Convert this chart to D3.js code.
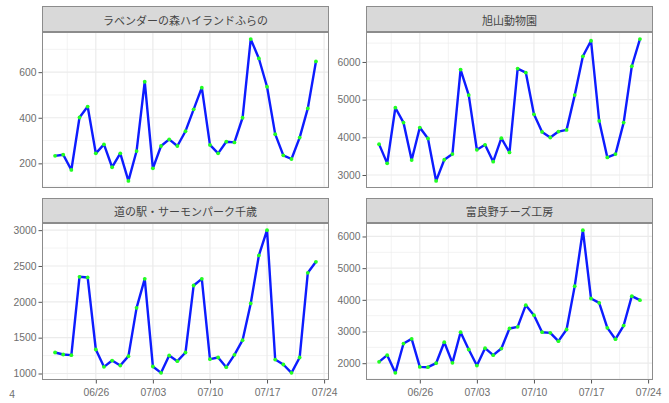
<!DOCTYPE html>
<html>
<head>
<meta charset="utf-8">
<script src="https://cdn.jsdelivr.net/npm/d3@7"></script>
<style>
  html, body { margin: 0; padding: 0; background: #fff; }
  svg { display: block; }
</style>
</head>
<body>
<svg id="chart" width="669" height="403"></svg>
<script>
// Daily visitor counts, 06/21 – 07/23
const dates = [
  "2019-06-21","2019-06-22","2019-06-23","2019-06-24","2019-06-25","2019-06-26","2019-06-27",
  "2019-06-28","2019-06-29","2019-06-30","2019-07-01","2019-07-02","2019-07-03","2019-07-04",
  "2019-07-05","2019-07-06","2019-07-07","2019-07-08","2019-07-09","2019-07-10","2019-07-11",
  "2019-07-12","2019-07-13","2019-07-14","2019-07-15","2019-07-16","2019-07-17","2019-07-18",
  "2019-07-19","2019-07-20","2019-07-21","2019-07-22","2019-07-23"
];

const facetNames = ["ラベンダーの森ハイランドふらの", "旭山動物園", "道の駅・サーモンパーク千歳", "富良野チーズ工房"];

const lavender = [233, 238, 171, 401, 449, 244, 283, 183, 244, 123, 254, 558, 178, 276, 305, 276, 341,
  437, 532, 281, 244, 295, 292, 400, 745, 660, 536, 328, 235, 219, 313, 441, 647];
const asahiyama = [3819, 3309, 4786, 4390, 3397, 4259, 3968, 2843, 3405, 3555, 5798, 5120, 3669, 3801,
  3353, 3977, 3599, 5824, 5719, 4610, 4144, 3995, 4153, 4197, 5120, 6150, 6563, 4435, 3467, 3555,
  4390, 5886, 6607];
const chitose = [1293, 1265, 1256, 2349, 2340, 1335, 1093, 1181, 1112, 1242, 1916, 2321, 1098, 1009,
  1251, 1172, 1293, 2228, 2321, 1200, 1223, 1088, 1260, 1465, 1977, 2647, 3000, 1195, 1126, 1009,
  1223, 2405, 2558];
const cheese = [2042, 2253, 1695, 2621, 2768, 1884, 1874, 2000, 2663, 2011, 2979, 2432, 1926, 2474,
  2253, 2463, 3095, 3147, 3832, 3516, 2979, 2958, 2695, 3063, 4432, 6200, 4042, 3905, 3116, 2758,
  3189, 4116, 3989];

const seriesValues = [lavender, asahiyama, chitose, cheese];
const yTickSteps = [200, 1000, 500, 1000];
const xTickLabels = ["06/26", "07/03", "07/10", "07/17", "07/24"];

// ---- layout ----
const svg = d3.select("#chart");
const parseDay = d3.utcParse("%Y-%m-%d");
const days = dates.map(parseDay);
const tickDays = xTickLabels.map(s => parseDay("2019-" + s.replace("/", "-")));

const cols = [{ x0: 42, x1: 329 }, { x0: 366, x1: 653 }];
const rows = [{ s0: 6, y0: 32, y1: 188, axis: false }, { s0: 198, y0: 223, y1: 380, axis: true }];

const fontAxis = "'Liberation Sans', Arial, sans-serif";
const fontStrip = "'Noto Sans CJK JP', 'Noto Sans', sans-serif";
const gridCol = "#ebebeb";
const borderCol = "#8c8c8c";
const axisTextCol = "#6e6e6e";
const axisFontSize = 10.3;

// ggplot-style 5% padding on a numeric extent
function padded(ext) {
  const r = ext[1] - ext[0];
  return [ext[0] - r * 0.05, ext[1] + r * 0.05];
}

const dayExtent = d3.extent(days);
const xDomain = padded(dayExtent.map(Number)).map(v => new Date(v));

// minor date gridlines halfway between weekly breaks
const minorDays = [];
for (let i = -1; i < tickDays.length; i++) {
  const base = i < 0 ? +tickDays[0] - 7 * 864e5 : +tickDays[i];
  minorDays.push(new Date(base + 3.5 * 864e5));
}

seriesValues.forEach((vals, i) => {
  const c = cols[i % 2], r = rows[Math.floor(i / 2)];
  const x = d3.scaleUtc().domain(xDomain).range([c.x0, c.x1]);
  const y = d3.scaleLinear().domain(padded(d3.extent(vals))).range([r.y1, r.y0]);
  const step = yTickSteps[i];
  const [dMin, dMax] = y.domain();
  const majors = d3.range(Math.ceil(dMin / step) * step, dMax + 1e-9, step);
  const minors = d3.range(Math.ceil(dMin / (step / 2)) * (step / 2), dMax + 1e-9, step / 2)
    .filter(v => Math.abs(v / step - Math.round(v / step)) > 1e-6);

  const g = svg.append("g");

  // panel background
  g.append("rect").attr("x", c.x0).attr("y", r.y0)
    .attr("width", c.x1 - c.x0).attr("height", r.y1 - r.y0).attr("fill", "#fff");

  // minor grid
  g.selectAll(null).data(minors).join("line")
    .attr("x1", c.x0).attr("x2", c.x1).attr("y1", d => y(d)).attr("y2", d => y(d))
    .attr("stroke", gridCol).attr("stroke-width", 0.6);
  g.selectAll(null).data(minorDays.filter(d => d >= xDomain[0] && d <= xDomain[1])).join("line")
    .attr("x1", d => x(d)).attr("x2", d => x(d)).attr("y1", r.y0).attr("y2", r.y1)
    .attr("stroke", gridCol).attr("stroke-width", 0.6);

  // major grid
  g.selectAll(null).data(majors).join("line")
    .attr("x1", c.x0).attr("x2", c.x1).attr("y1", d => y(d)).attr("y2", d => y(d))
    .attr("stroke", gridCol).attr("stroke-width", 1.2);
  g.selectAll(null).data(tickDays.filter(d => d >= xDomain[0] && d <= xDomain[1])).join("line")
    .attr("x1", d => x(d)).attr("x2", d => x(d)).attr("y1", r.y0).attr("y2", r.y1)
    .attr("stroke", gridCol).attr("stroke-width", 1.2);

  // series line and points
  const line = d3.line().x((d, j) => x(days[j])).y(d => y(d));
  g.append("path").datum(vals).attr("d", line)
    .attr("fill", "none").attr("stroke", "#0d1cff").attr("stroke-width", 2.4)
    .attr("stroke-linejoin", "round");
  g.selectAll(null).data(vals).join("circle")
    .attr("cx", (d, j) => x(days[j])).attr("cy", d => y(d)).attr("r", 1.9)
    .attr("fill", "#22ff22");

  // panel border
  g.append("rect").attr("x", c.x0 + 0.5).attr("y", r.y0 + 0.5)
    .attr("width", c.x1 - c.x0 - 1).attr("height", r.y1 - r.y0 - 1)
    .attr("fill", "none").attr("stroke", borderCol).attr("stroke-width", 1);

  // strip
  g.append("rect").attr("x", c.x0 + 0.5).attr("y", r.s0 + 0.5)
    .attr("width", c.x1 - c.x0 - 1).attr("height", r.y0 - r.s0 - 1)
    .attr("fill", "#d9d9d9").attr("stroke", borderCol).attr("stroke-width", 1);
  g.append("text").attr("x", (c.x0 + c.x1) / 2).attr("y", (r.s0 + r.y0) / 2 + 0.5)
    .attr("text-anchor", "middle").attr("dominant-baseline", "central")
    .attr("font-family", fontStrip).attr("font-size", 11).attr("fill", "#454545")
    .text(facetNames[i]);

  // y axis
  const yAxis = d3.axisLeft(y).tickValues(majors).tickSize(3.5).tickPadding(2).tickFormat(d3.format("d"));
  const ya = g.append("g").attr("transform", `translate(${c.x0},0)`).call(yAxis);
  ya.select(".domain").remove();
  ya.selectAll(".tick line").attr("stroke", "#555");
  ya.selectAll(".tick text").attr("font-family", fontAxis).attr("font-size", axisFontSize).attr("fill", axisTextCol);

  // x axis on bottom row only
  if (r.axis) {
    const xAxis = d3.axisBottom(x).tickValues(tickDays).tickSize(3.5).tickPadding(5)
      .tickFormat((d, k) => xTickLabels[k]);
    const xa = g.append("g").attr("transform", `translate(0,${r.y1})`).call(xAxis);
    xa.select(".domain").remove();
    xa.selectAll(".tick line").attr("stroke", "#555");
    xa.selectAll(".tick text").attr("font-family", fontAxis).attr("font-size", axisFontSize).attr("fill", axisTextCol);
  }
});

// trailing fragment of a tick label at the left edge
svg.append("text").attr("x", 12).attr("y", 398).attr("text-anchor", "middle")
  .attr("font-family", fontAxis).attr("font-size", axisFontSize).attr("fill", axisTextCol).text("4");
</script>
</body>
</html>
